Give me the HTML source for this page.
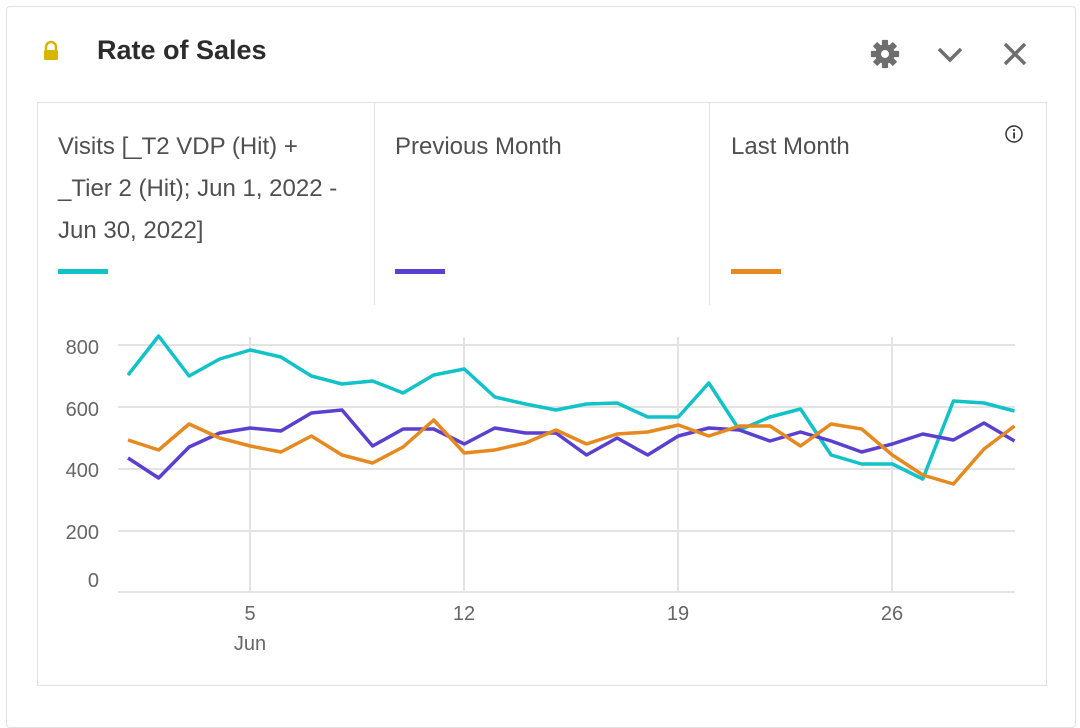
<!DOCTYPE html>
<html><head><meta charset="utf-8"><style>
body{margin:0;width:1080px;height:716px;background:#fff;font-family:"Liberation Sans",sans-serif;overflow:hidden;position:relative}
.card{position:absolute;left:6px;top:6px;width:1068px;height:720px;border:1px solid #e1e1e1;border-radius:4px}
.title{position:absolute;left:97px;top:35px;font-size:27px;font-weight:bold;color:#2c2c2c}
.inner{position:absolute;left:37px;top:102px;width:1008px;height:582px;border:1px solid #e1e1e1}
.col{position:absolute;top:0;height:202px;font-size:24px;color:#505050;line-height:42px;padding-top:23px;box-sizing:border-box;white-space:nowrap}
.sw{position:absolute;top:166px;width:50px;height:5px}
</style></head><body>
<div class="card"></div>
<svg style="position:absolute;left:41px;top:40px" width="20" height="22"><path d="M5 10V7a5 5 0 0 1 10 0v3" fill="none" stroke="#d7b500" stroke-width="2.5"/><rect x="3" y="10" width="14" height="10" rx="1.5" fill="#d7b500"/></svg>
<div class="title">Rate of Sales</div>
<svg style="position:absolute;left:870px;top:39px" width="30" height="30" viewBox="-17 -17 34 34"><g fill="#6e6e6e"><circle r="11"/><rect x="-3.5" y="-16" width="7" height="32" rx="1"/><rect x="-3.5" y="-16" width="7" height="32" rx="1" transform="rotate(45)"/><rect x="-3.5" y="-16" width="7" height="32" rx="1" transform="rotate(90)"/><rect x="-3.5" y="-16" width="7" height="32" rx="1" transform="rotate(135)"/></g><circle r="4.5" fill="#fff"/></svg>
<svg style="position:absolute;left:936px;top:44px" width="28" height="20"><path d="M3 5l11 11 11-11" fill="none" stroke="#6e6e6e" stroke-width="3.5"/></svg>
<svg style="position:absolute;left:1002px;top:41px" width="26" height="26"><path d="M3 3l20 20M23 3L3 23" stroke="#6e6e6e" stroke-width="3.5"/></svg>
<div class="inner">
<div class="col" style="left:20px;width:300px">Visits [_T2 VDP (Hit) +<br>_Tier 2 (Hit); Jun 1, 2022 -<br>Jun 30, 2022]<div class="sw" style="left:0;background:#12c2c9"></div></div>
<div style="position:absolute;left:336px;top:0;width:1px;height:202px;background:#e1e1e1"></div>
<div class="col" style="left:357px">Previous Month<div class="sw" style="left:0;background:#5a3fd1"></div></div>
<div style="position:absolute;left:671px;top:0;width:1px;height:202px;background:#e1e1e1"></div>
<div class="col" style="left:693px">Last Month<div class="sw" style="left:0;background:#e6891f"></div></div>
<svg style="position:absolute;left:966px;top:21px" width="20" height="20"><circle cx="10" cy="10" r="8" fill="none" stroke="#333" stroke-width="1.5"/><rect x="9.2" y="8.5" width="1.8" height="6" fill="#333"/><circle cx="10" cy="6" r="1.1" fill="#333"/></svg>
</div>
<svg style="position:absolute;left:0;top:0" width="1080" height="716">
<g stroke="#e3e3e3" stroke-width="2">
<line x1="118" y1="345" x2="1015" y2="345"/><line x1="118" y1="407" x2="1015" y2="407"/><line x1="118" y1="469" x2="1015" y2="469"/><line x1="118" y1="531" x2="1015" y2="531"/><line x1="118" y1="592" x2="1015" y2="592"/>
<line x1="250" y1="337" x2="250" y2="592"/><line x1="464" y1="337" x2="464" y2="592"/><line x1="678" y1="337" x2="678" y2="592"/><line x1="892" y1="337" x2="892" y2="592"/>
</g>
<g font-size="20" fill="#666" text-anchor="end" font-family="Liberation Sans,sans-serif">
<text x="99" y="354">800</text><text x="99" y="416">600</text><text x="99" y="477">400</text><text x="99" y="539">200</text><text x="99" y="587">0</text>
</g>
<g font-size="20" fill="#666" text-anchor="middle" font-family="Liberation Sans,sans-serif">
<text x="250" y="620">5</text><text x="250" y="650">Jun</text><text x="464" y="620">12</text><text x="678" y="620">19</text><text x="892" y="620">26</text>
</g>
<g fill="none" stroke-width="3.5" stroke-linejoin="round">
<polyline id="t" stroke="#12c2c9" points=""/>
<polyline id="p" stroke="#5a3fd1" points=""/>
<polyline id="o" stroke="#e6891f" points=""/>
</g>
</svg>
<script>
var T=[375,336,376,359,350,357,376,384,381,393,375,369,397,404,410,404,403,417,417,383,430,417,409,455,464,464,479,401,403,411];
var P=[458,478,447,433,428,431,413,410,446,429,429,444,428,433,433,455,438,455,436,428,430,441,432,441,452,444,434,440,423,441];
var O=[440,450,424,438,446,452,436,455,463,447,420,453,450,443,430,444,434,432,425,436,426,426,446,424,429,455,475,484,449,426];
function pts(a){return a.map(function(y,i){return (128+i*30.57).toFixed(1)+","+y}).join(" ")}
document.getElementById("t").setAttribute("points",pts(T));
document.getElementById("p").setAttribute("points",pts(P));
document.getElementById("o").setAttribute("points",pts(O));
</script>
</body></html>
